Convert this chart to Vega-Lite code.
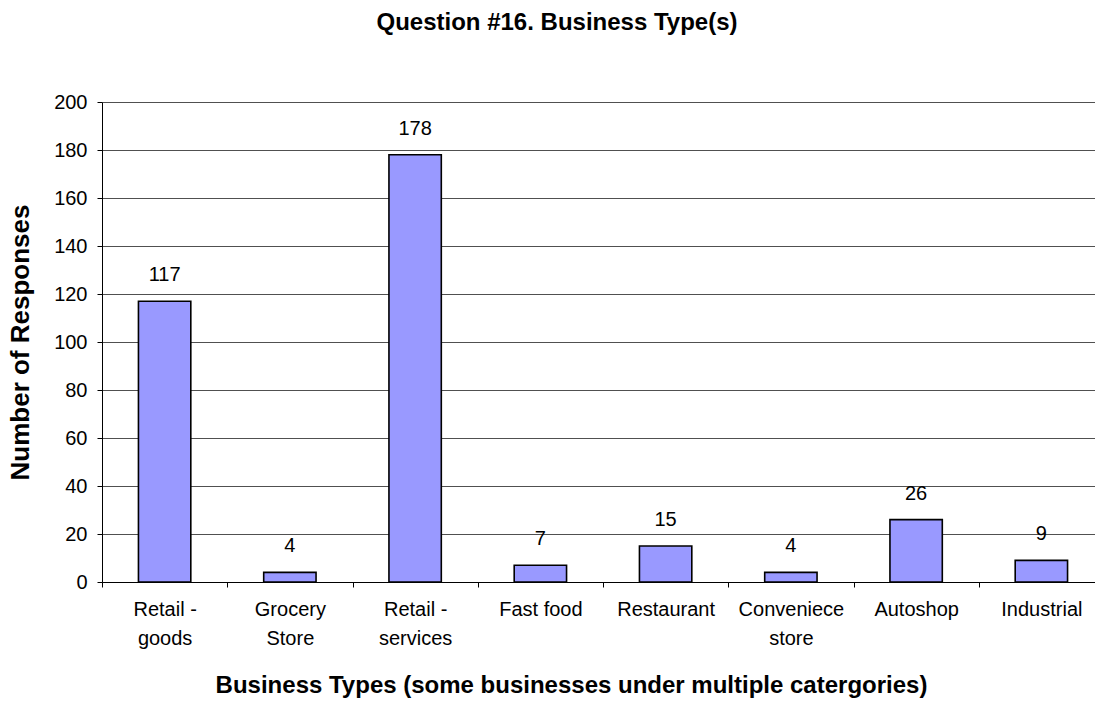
{
  "$schema": "https://vega.github.io/schema/vega-lite/v6.json",
  "autosize": {"type": "none"},
  "width": 1002,
  "height": 480,
  "padding": {"left": 102, "top": 102, "right": 0, "bottom": 120},
  "background": "white",
  "config": {
    "font": "Liberation Sans",
    "view": {"stroke": null},
    "axis": {"labelFont": "Liberation Sans", "titleFont": "Liberation Sans"},
    "title": {
      "font": "Liberation Sans",
      "fontSize": 24,
      "fontWeight": "bold",
      "color": "#000000",
      "anchor": "middle",
      "baseline": "alphabetic",
      "dx": -46,
      "offset": 57
    }
  },
  "title": {"text": "Question #16. Business Type(s)"},
  "data": {
    "values": [
      {"type": "Retail -\ngoods", "count": 117},
      {"type": "Grocery\nStore", "count": 4},
      {"type": "Retail -\nservices", "count": 178},
      {"type": "Fast food", "count": 7},
      {"type": "Restaurant", "count": 15},
      {"type": "Conveniece\nstore", "count": 4},
      {"type": "Autoshop", "count": 26},
      {"type": "Industrial", "count": 9}
    ]
  },
  "encoding": {
    "x": {
      "field": "type",
      "type": "nominal",
      "sort": null,
      "scale": {"paddingInner": 0, "paddingOuter": 0},
      "axis": {
        "title": "Business Types (some businesses under multiple catergories)",
        "titleFontSize": 24,
        "titleFontWeight": "bold",
        "titleColor": "#000000",
        "titleX": 469,
        "titleY": 110,
        "titleBaseline": "alphabetic",
        "labelAngle": 0,
        "labelFontSize": 20,
        "labelColor": "#000000",
        "labelExpr": "split(datum.label, '\\n')",
        "labelLineHeight": 29,
        "labelPadding": 12,
        "labelBaseline": "top",
        "bandPosition": 0,
        "tickBand": "extent",
        "tickSize": 5,
        "tickColor": "#000000",
        "tickWidth": 1,
        "domainColor": "#000000",
        "domainWidth": 1,
        "grid": false
      }
    },
    "y": {
      "field": "count",
      "type": "quantitative",
      "scale": {"domain": [0, 200], "nice": false},
      "axis": {
        "title": "Number of Responses",
        "titleFontSize": 26,
        "titleFontWeight": "bold",
        "titleColor": "#000000",
        "titleX": -82,
        "titleY": 240,
        "titleAngle": -90,
        "titleBaseline": "middle",
        "titleAlign": "center",
        "values": [0, 20, 40, 60, 80, 100, 120, 140, 160, 180, 200],
        "labelFontSize": 20,
        "labelColor": "#000000",
        "labelPadding": 10,
        "tickSize": 5,
        "tickColor": "#000000",
        "domainColor": "#000000",
        "grid": true,
        "gridColor": "#505050",
        "gridWidth": 1
      }
    }
  },
  "layer": [
    {
      "mark": {
        "type": "bar",
        "width": {"band": 0.418},
        "fill": "#9999FF",
        "stroke": "#000000",
        "strokeWidth": 1.6
      }
    },
    {
      "mark": {
        "type": "text",
        "baseline": "alphabetic",
        "dy": -20,
        "fontSize": 20,
        "font": "Liberation Sans",
        "color": "#000000"
      },
      "encoding": {"text": {"field": "count", "type": "quantitative"}}
    }
  ]
}
